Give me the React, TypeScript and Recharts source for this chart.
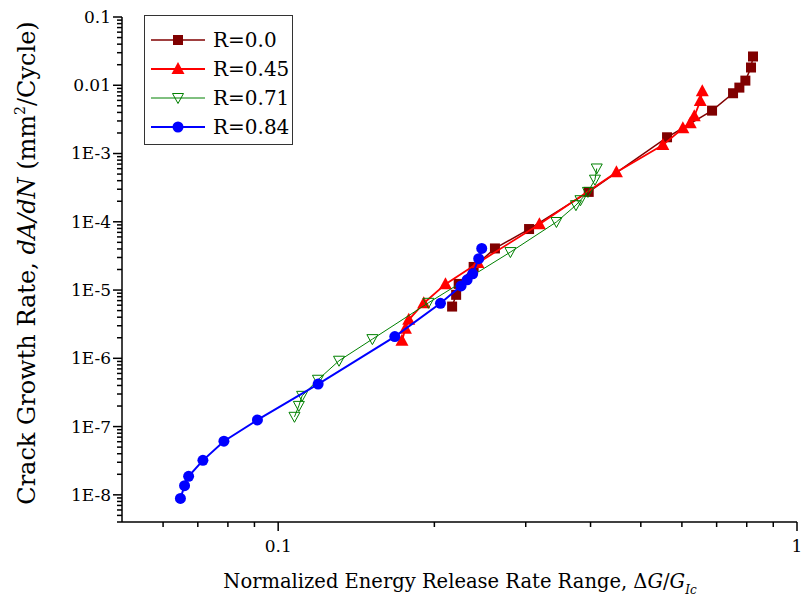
import React from 'react'
import { ScatterChart, Scatter, XAxis, YAxis, Legend } from 'recharts'

const FONT = '"DejaVu Serif", serif'

// R = 0.0
const r00X = [0.2164, 0.2203, 0.2228, 0.2381, 0.2617, 0.3045, 0.3968, 0.5617, 0.6859, 0.7529, 0.7743, 0.7952, 0.8154, 0.8226]
const r00Y = [5.73e-6, 8.51e-6, 1.23e-5, 2.18e-5, 4.07e-5, 7.83e-5, 2.74e-4, 1.73e-3, 4.25e-3, 7.64e-3, 9.24e-3, 1.17e-2, 1.82e-2, 2.64e-2]

// R = 0.45
const r45X = [0.1732, 0.1759, 0.1785, 0.1908, 0.2101, 0.2427, 0.3188, 0.4487, 0.5513, 0.6026, 0.6227, 0.6339, 0.651, 0.6568]
const r45Y = [1.81e-6, 2.72e-6, 3.66e-6, 6.41e-6, 1.22e-5, 2.5e-5, 9.2e-5, 5.33e-4, 1.33e-3, 2.34e-3, 2.77e-3, 3.51e-3, 5.89e-3, 8.18e-3]

// R = 0.71
const r71X = [0.1075, 0.1096, 0.1112, 0.1193, 0.131, 0.1519, 0.1948, 0.2803, 0.3438, 0.3749, 0.3825, 0.3954, 0.4079, 0.4112]
const r71Y = [1.39e-7, 2.01e-7, 2.82e-7, 4.85e-7, 9.22e-7, 1.91e-6, 6.5e-6, 3.6e-5, 9.93e-5, 1.75e-4, 2.07e-4, 2.74e-4, 4.14e-4, 6.04e-4]

// R = 0.84
const r84X = [0.0648, 0.066, 0.0672, 0.0716, 0.0786, 0.0912, 0.1194, 0.1678, 0.2055, 0.2252, 0.2313, 0.2371, 0.2435, 0.2468]
const r84Y = [8.85e-9, 1.36e-8, 1.87e-8, 3.2e-8, 6.1e-8, 1.25e-7, 4.19e-7, 2.08e-6, 6.4e-6, 1.15e-5, 1.41e-5, 1.73e-5, 2.88e-5, 4.07e-5]

const xMajorTicks = [0.1, 1]
const xMajorLabels = ['0.1', '1']
const xMinorTicks = [0.06, 0.07, 0.08, 0.09, 0.2, 0.3, 0.4, 0.5, 0.6, 0.7, 0.8, 0.9]

const yMajorTicks = [1e-8, 1e-7, 1e-6, 1e-5, 1e-4, 1e-3, 0.01, 0.1]
const yMajorLabels = ['1E-8', '1E-7', '1E-6', '1E-5', '1E-4', '1E-3', '0.01', '0.1']

const yMin = 4e-9
const yMinorTicks: number[] = []
;[1e-9, ...yMajorTicks.slice(0, -1)].forEach((base) => {
  for (let k = 2; k <= 9; k++) {
    if (k * base >= yMin) yMinorTicks.push(k * base)
  }
})

const toPoints = (xs: number[], ys: number[]) => xs.map((x, i) => ({ x, y: ys[i] }))

const series = [
  { name: 'R=0.0', color: '#800000', width: 1.5, marker: 'square', data: toPoints(r00X, r00Y) },
  { name: 'R=0.45', color: '#ff0000', width: 1.8, marker: 'triangle', data: toPoints(r45X, r45Y) },
  { name: 'R=0.71', color: '#008000', width: 1, marker: 'triangleDown', data: toPoints(r71X, r71Y) },
  { name: 'R=0.84', color: '#0000ff', width: 2, marker: 'circle', data: toPoints(r84X, r84Y) },
]

function Marker({ cx, cy, type, color }: any) {
  if (cx == null || cy == null) return null
  if (type === 'square') {
    return <rect x={cx - 5} y={cy - 5} width={10} height={10} fill={color} />
  }
  if (type === 'triangle') {
    return <polygon points={`${cx},${cy - 7} ${cx - 6.5},${cy + 5} ${cx + 6.5},${cy + 5}`} fill={color} />
  }
  if (type === 'triangleDown') {
    return (
      <polygon
        points={`${cx - 5.5},${cy - 4.5} ${cx + 5.5},${cy - 4.5} ${cx},${cy + 5.5}`}
        fill="none"
        stroke={color}
        strokeWidth={1}
      />
    )
  }
  return <circle cx={cx} cy={cy} r={5.5} fill={color} />
}

// tickSize/tickMargin are 0, so x,y here sit right on the axis line
function XTick({ x, y, payload }: any) {
  const i = xMajorTicks.indexOf(payload.value)
  const major = i >= 0
  return (
    <g>
      <line x1={x} x2={x} y1={y} y2={y + (major ? 9 : 5)} stroke="#000" strokeWidth={1.5} />
      {major && (
        <text x={x} y={y + 30} textAnchor="middle" fontFamily={FONT} fontSize={17} fill="#000">
          {xMajorLabels[i]}
        </text>
      )}
    </g>
  )
}

function YTick({ x, y, payload }: any) {
  const i = yMajorTicks.indexOf(payload.value)
  const major = i >= 0
  return (
    <g>
      <line x1={x} x2={x - (major ? 9 : 5)} y1={y} y2={y} stroke="#000" strokeWidth={1.5} />
      {major && (
        <text x={x - 11} y={y} dy="0.35em" textAnchor="end" fontFamily={FONT} fontSize={17} fill="#000">
          {yMajorLabels[i]}
        </text>
      )}
    </g>
  )
}

function LegendBox() {
  return (
    <svg width={149} height={130}>
      <rect x={0.5} y={0.5} width={148} height={129} fill="#fff" stroke="#333" strokeWidth={1} />
      {series.map((s, i) => {
        const cy = 25 + i * 29
        return (
          <g key={s.name}>
            <line x1={7} x2={61} y1={cy} y2={cy} stroke={s.color} strokeWidth={s.width} />
            <Marker cx={34} cy={cy} type={s.marker} color={s.color} />
            <text x={69} y={cy} dy="0.35em" fontFamily={FONT} fontSize={20} fill="#000">
              {s.name}
            </text>
          </g>
        )
      })}
    </svg>
  )
}

export default function App() {
  return (
    <div style={{ position: 'absolute', left: 0, top: 0, width: 802, height: 606, background: '#fff' }}>
      <ScatterChart width={802} height={606} margin={{ top: 17, right: 5, left: 62, bottom: 44 }}>
        <XAxis
          type="number"
          dataKey="x"
          scale="log"
          domain={[0.05, 1]}
          allowDataOverflow
          ticks={[...xMinorTicks, ...xMajorTicks]}
          interval={0}
          height={40}
          tickSize={0}
          tickMargin={0}
          tickLine={false}
          axisLine={{ stroke: '#000', strokeWidth: 1.5 }}
          tick={<XTick />}
        />
        <YAxis
          type="number"
          dataKey="y"
          scale="log"
          domain={[yMin, 0.1]}
          allowDataOverflow
          ticks={[...yMinorTicks, ...yMajorTicks]}
          interval={0}
          width={60}
          tickSize={0}
          tickMargin={0}
          tickLine={false}
          axisLine={{ stroke: '#000', strokeWidth: 1.5 }}
          tick={<YTick />}
        />
        <Legend
          layout="horizontal"
          align="center"
          verticalAlign="middle"
          wrapperStyle={{ position: 'absolute', left: 144, top: 15, width: 149, height: 130 }}
          content={() => <LegendBox />}
        />
        {series.map((s) => (
          <Scatter
            key={s.name}
            name={s.name}
            data={s.data}
            fill={s.color}
            line={{ stroke: s.color, strokeWidth: s.width }}
            lineType="joint"
            isAnimationActive={false}
            shape={(p: any) => <Marker cx={p.cx} cy={p.cy} type={s.marker} color={s.color} />}
          />
        ))}
      </ScatterChart>
      <svg
        width={802}
        height={606}
        style={{ position: 'absolute', left: 0, top: 0, pointerEvents: 'none' }}
      >
        <text x={460} y={588} textAnchor="middle" fontFamily={FONT} fontSize={19.5} fill="#000">
          Normalized Energy Release Rate Range, Δ<tspan fontStyle="italic">G</tspan>/<tspan fontStyle="italic">G</tspan>
          <tspan dy={6} fontSize={12} fontStyle="italic">Ic</tspan>
        </text>
        <text
          transform="translate(35, 263) rotate(-90)"
          textAnchor="middle"
          fontFamily={FONT}
          fontSize={24}
          fill="#000"
        >
          Crack Growth Rate, <tspan fontStyle="italic">dA/dN</tspan> (mm
          <tspan dy={-10} fontSize={14}>2</tspan>
          <tspan dy={10}>/Cycle)</tspan>
        </text>
      </svg>
    </div>
  )
}
